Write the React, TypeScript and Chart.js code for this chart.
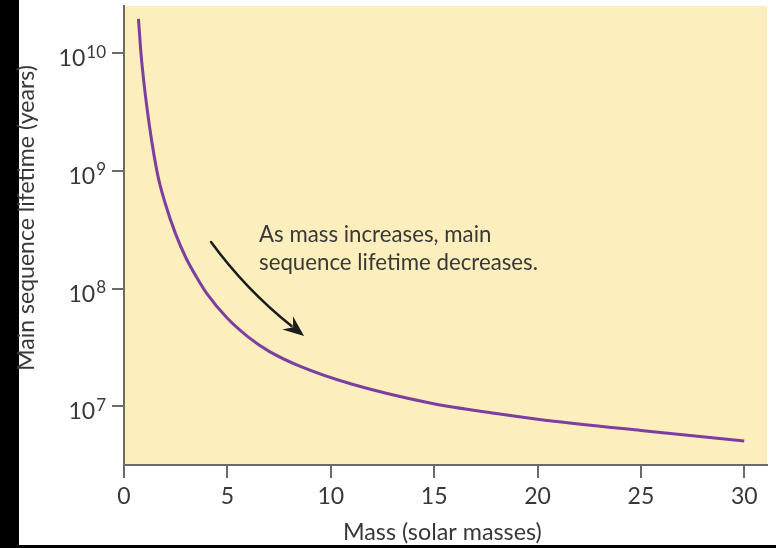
import React, { useEffect, useRef } from 'react';
import { Chart, registerables } from 'chart.js';

Chart.register(...registerables);

// ---- data ----
const masses = [0.7, 0.82, 1.1, 1.6, 2.0, 2.5, 3.0, 3.5, 4.0, 5.0, 6.0, 7.0, 8.5, 11, 14.8, 18, 20, 25, 30];
const lifetimes = [
  1.95e10, 1.0e10, 3.55e9, 9.8e8, 5.25e8, 2.9e8, 1.82e8, 1.26e8, 9.1e7, 5.6e7,
  3.9e7, 2.95e7, 2.2e7, 1.55e7, 1.07e7, 8.7e6, 7.8e6, 6.25e6, 5.1e6,
];
const xTickValues = [0, 5, 10, 15, 20, 25, 30];
const yTickExponents = [7, 8, 9, 10];
const xTitle = 'Mass (solar masses)';
const yTitle = 'Main sequence lifetime (years)';
const noteLines = ['As mass increases, main', 'sequence lifetime decreases.'];
// annotation anchor (mass, log10 lifetime)
const noteAnchor = [6.53, 8.396];
const arrowStart = [4.21, 8.396];
const arrowControl = [5.9, 7.99];
const arrowEnd = [8.71, 7.598];

const X_MIN = 0;
const X_MAX = 31.1;
const Y_MIN = Math.pow(10, 6.503);
const Y_MAX = Math.pow(10, 10.399);

const AXIS_COLOR = '#6a6a6a';
const TEXT_COLOR = '#383838';
const BG_YELLOW = '#fdeebd';
const CURVE_COLOR = '#7b3f9f';
const FONT = 'Lato, "Open Sans", sans-serif';

function fitFont(ctx: CanvasRenderingContext2D, text: string, width: number, base: number) {
  ctx.font = `${base}px ${FONT}`;
  const w = ctx.measureText(text).width;
  return base * width / w;
}

const decorPlugin = {
  id: 'decor',
  beforeDraw(chart: any) {
    const { ctx, chartArea, width, height } = chart;
    ctx.save();
    ctx.fillStyle = '#ffffff';
    ctx.fillRect(0, 0, width, height);
    ctx.fillStyle = BG_YELLOW;
    ctx.fillRect(chartArea.left, chartArea.top, chartArea.right - chartArea.left, chartArea.bottom - chartArea.top);
    ctx.fillStyle = '#000000';
    ctx.fillRect(0, 0, 19, height);
    ctx.fillRect(0, height - 3, width, 3);
    ctx.restore();
  },
  afterDraw(chart: any) {
    const { ctx } = chart;
    const xs = chart.scales.x;
    const ys = chart.scales.y;
    ctx.save();
    ctx.fillStyle = TEXT_COLOR;

    // y tick labels with superscripts
    const labelRight = ys.left + ys.width - 18;
    yTickExponents.forEach((e) => {
      const py = ys.getPixelForValue(Math.pow(10, e));
      ctx.font = `17px ${FONT}`;
      ctx.textAlign = 'right';
      ctx.textBaseline = 'alphabetic';
      const sup = String(e);
      const supW = ctx.measureText(sup).width;
      ctx.fillText(sup, labelRight, py + 4.5);
      ctx.font = `23px ${FONT}`;
      ctx.fillText('10', labelRight - supW - 1, py + 13);
    });

    // axis titles
    const xSize = fitFont(ctx, xTitle, 199, 20);
    ctx.font = `${xSize}px ${FONT}`;
    ctx.textAlign = 'center';
    ctx.textBaseline = 'alphabetic';
    ctx.fillText(xTitle, xs.getPixelForValue(15.4), 540);

    const ySize = fitFont(ctx, yTitle, 306, 20);
    ctx.save();
    ctx.translate(34, ys.getPixelForValue(Math.pow(10, 8.6)));
    ctx.rotate(-Math.PI / 2);
    ctx.font = `${ySize}px ${FONT}`;
    ctx.textAlign = 'center';
    ctx.fillText(yTitle, 0, 0);
    ctx.restore();

    // annotation
    const nSize = fitFont(ctx, noteLines[1], 279, 20);
    ctx.font = `${nSize}px ${FONT}`;
    ctx.textAlign = 'left';
    const nx = xs.getPixelForValue(noteAnchor[0]);
    const ny = ys.getPixelForValue(Math.pow(10, noteAnchor[1]));
    noteLines.forEach((line, i) => ctx.fillText(line, nx, ny + i * 28));

    // arrow
    const p0 = [xs.getPixelForValue(arrowStart[0]), ys.getPixelForValue(Math.pow(10, arrowStart[1]))];
    const p1 = [xs.getPixelForValue(arrowControl[0]), ys.getPixelForValue(Math.pow(10, arrowControl[1]))];
    const p2 = [xs.getPixelForValue(arrowEnd[0]), ys.getPixelForValue(Math.pow(10, arrowEnd[1]))];
    const ang = Math.atan2(p2[1] - p1[1], p2[0] - p1[0]);
    const headLen = 21;
    const back = [p2[0] - Math.cos(ang) * (headLen - 5), p2[1] - Math.sin(ang) * (headLen - 5)];
    ctx.strokeStyle = '#1c1c1c';
    ctx.lineWidth = 2.5;
    ctx.lineCap = 'round';
    ctx.beginPath();
    ctx.moveTo(p0[0], p0[1]);
    ctx.quadraticCurveTo(p1[0], p1[1], back[0], back[1]);
    ctx.stroke();
    const half = 8.5;
    const bx = p2[0] - Math.cos(ang) * headLen;
    const by = p2[1] - Math.sin(ang) * headLen;
    const nxp = -Math.sin(ang);
    const nyp = Math.cos(ang);
    ctx.fillStyle = '#1c1c1c';
    ctx.beginPath();
    ctx.moveTo(p2[0], p2[1]);
    ctx.lineTo(bx + nxp * half, by + nyp * half);
    ctx.lineTo(p2[0] - Math.cos(ang) * (headLen - 7), p2[1] - Math.sin(ang) * (headLen - 7));
    ctx.lineTo(bx - nxp * half, by - nyp * half);
    ctx.closePath();
    ctx.fill();

    ctx.restore();
  },
};

export default function App() {
  const canvasRef = useRef<HTMLCanvasElement | null>(null);

  useEffect(() => {
    const canvas = canvasRef.current;
    if (!canvas) return;
    const chart = new Chart(canvas, {
      type: 'line',
      data: {
        datasets: [
          {
            data: masses.map((m, i) => ({ x: m, y: lifetimes[i] })),
            borderColor: CURVE_COLOR,
            borderWidth: 3,
            pointRadius: 0,
            fill: false,
            cubicInterpolationMode: 'monotone',
          },
        ],
      },
      options: {
        responsive: false,
        animation: false,
        devicePixelRatio: 1,
        layout: { padding: { top: 6, right: 9, left: 0, bottom: 0 } },
        plugins: { legend: { display: false }, tooltip: { enabled: false } },
        scales: {
          x: {
            type: 'linear',
            min: X_MIN,
            max: X_MAX,
            afterBuildTicks: (s: any) => {
              s.ticks = xTickValues.map((v) => ({ value: v }));
            },
            afterFit: (s: any) => {
              s.height = 83;
            },
            ticks: {
              color: TEXT_COLOR,
              font: { family: FONT, size: 23 },
              padding: 5,
              maxRotation: 0,
              autoSkip: false,
            },
            grid: {
              drawOnChartArea: false,
              drawTicks: true,
              tickLength: 13,
              color: AXIS_COLOR,
              lineWidth: 2,
            },
            border: { color: AXIS_COLOR, width: 2 },
          },
          y: {
            type: 'logarithmic',
            min: Y_MIN,
            max: Y_MAX,
            afterBuildTicks: (s: any) => {
              s.ticks = yTickExponents.map((e) => ({ value: Math.pow(10, e) }));
            },
            afterFit: (s: any) => {
              s.width = 124;
            },
            ticks: {
              display: false,
            },
            grid: {
              drawOnChartArea: false,
              drawTicks: true,
              tickLength: 12,
              color: AXIS_COLOR,
              lineWidth: 2,
            },
            border: { color: AXIS_COLOR, width: 2 },
          },
        },
      },
      plugins: [decorPlugin],
    } as any);
    return () => chart.destroy();
  }, []);

  return (
    <div style={{ position: 'fixed', left: 0, top: 0, width: 776, height: 548 }}>
      <canvas ref={canvasRef} width={776} height={548} style={{ display: 'block' }} />
    </div>
  );
}
